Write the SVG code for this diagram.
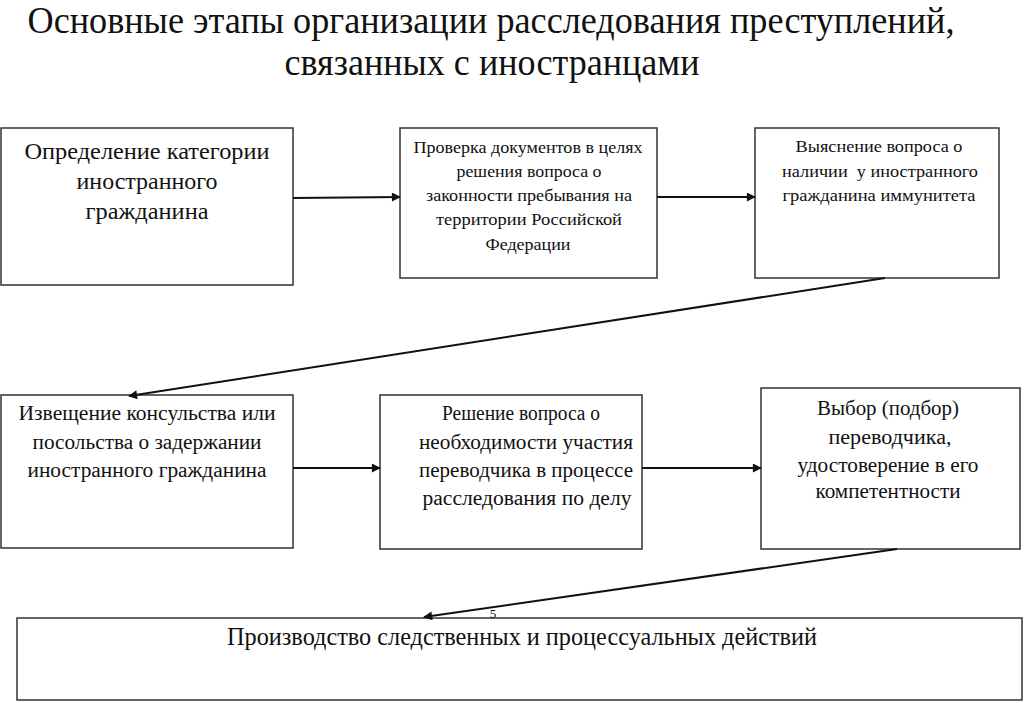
<svg xmlns="http://www.w3.org/2000/svg" width="1024" height="703" viewBox="0 0 1024 703">
<style>
.box{fill:#fff;stroke:#333;stroke-width:1.5}
.t{font-family:"Liberation Serif","Times New Roman","DejaVu Serif",serif;fill:#111;text-anchor:middle}
.title{font-size:38px}
.b1{font-size:23px}
.s{font-size:16.5px}
.m{font-size:20.5px}
.b7{font-size:25px}
.c{stroke:#111;stroke-width:2;fill:none;marker-end:url(#ah)}
</style>
<defs>
<marker id="ah" viewBox="0 0 10 10" refX="9" refY="5" markerWidth="10" markerHeight="9" orient="auto" markerUnits="userSpaceOnUse">
<path d="M0,0 L10,5 L0,10 z" fill="#111"/>
</marker>
</defs>
<rect width="1024" height="703" fill="#fff"/>
<g id="title">
<text class="t title" x="491" y="33" textLength="927" lengthAdjust="spacingAndGlyphs">Основные этапы организации расследования преступлений,</text>
<text class="t title" x="492" y="75" textLength="415" lengthAdjust="spacingAndGlyphs">связанных с иностранцами</text>
</g>
<g id="n1">
<rect class="box" x="1" y="128" width="292" height="157"/>
<text class="t b1" x="147" y="159" textLength="245" lengthAdjust="spacingAndGlyphs">Определение категории</text>
<text class="t b1" x="147" y="189" textLength="141" lengthAdjust="spacingAndGlyphs">иностранного</text>
<text class="t b1" x="147" y="219" textLength="123" lengthAdjust="spacingAndGlyphs">гражданина</text>
</g>
<g id="n2">
<rect class="box" x="400" y="128" width="257" height="150"/>
<text class="t s" x="528" y="153" textLength="229" lengthAdjust="spacingAndGlyphs">Проверка документов в целях</text>
<text class="t s" x="529" y="177" textLength="145" lengthAdjust="spacingAndGlyphs">решения вопроса о</text>
<text class="t s" x="529" y="201" textLength="206" lengthAdjust="spacingAndGlyphs">законности пребывания на</text>
<text class="t s" x="529" y="225" textLength="186" lengthAdjust="spacingAndGlyphs">территории Российской</text>
<text class="t s" x="528" y="250" textLength="85" lengthAdjust="spacingAndGlyphs">Федерации</text>
</g>
<g id="n3">
<rect class="box" x="755" y="128" width="244" height="150"/>
<text class="t s" x="879" y="152" textLength="167" lengthAdjust="spacingAndGlyphs">Выяснение вопроса о</text>
<text class="t s" x="880" y="177" xml:space="preserve" textLength="196" lengthAdjust="spacingAndGlyphs">наличии  у иностранного</text>
<text class="t s" x="879" y="201" textLength="193" lengthAdjust="spacingAndGlyphs">гражданина иммунитета</text>
</g>
<g id="n4">
<rect class="box" x="1" y="395" width="292" height="153"/>
<text class="t m" x="147" y="420" textLength="257" lengthAdjust="spacingAndGlyphs">Извещение консульства или</text>
<text class="t m" x="147" y="449" textLength="229" lengthAdjust="spacingAndGlyphs">посольства о задержании</text>
<text class="t m" x="147" y="477" textLength="239" lengthAdjust="spacingAndGlyphs">иностранного гражданина</text>
</g>
<g id="n5">
<rect class="box" x="380" y="395" width="262" height="154"/>
<text class="t m" x="521" y="420" textLength="158" lengthAdjust="spacingAndGlyphs">Решение вопроса о</text>
<text class="t m" x="526" y="449" textLength="214" lengthAdjust="spacingAndGlyphs">необходимости участия</text>
<text class="t m" x="526" y="477" textLength="214" lengthAdjust="spacingAndGlyphs">переводчика в процессе</text>
<text class="t m" x="527" y="505" textLength="209" lengthAdjust="spacingAndGlyphs">расследования по делу</text>
</g>
<g id="n6">
<rect class="box" x="761" y="388" width="259" height="161"/>
<text class="t m" x="888" y="415" textLength="142" lengthAdjust="spacingAndGlyphs">Выбор (подбор)</text>
<text class="t m" x="890" y="444" textLength="123" lengthAdjust="spacingAndGlyphs">переводчика,</text>
<text class="t m" x="888" y="472" textLength="181" lengthAdjust="spacingAndGlyphs">удостоверение в его</text>
<text class="t m" x="888" y="498" textLength="145" lengthAdjust="spacingAndGlyphs">компетентности</text>
</g>
<g id="n7">
<rect class="box" x="17" y="618" width="1005" height="82"/>
<text class="t b7" x="522" y="645" textLength="590" lengthAdjust="spacingAndGlyphs">Производство следственных и процессуальных действий</text>
</g>
<g id="connectors">
<line class="c" x1="293" y1="198" x2="400" y2="197"/>
<line class="c" x1="657" y1="197" x2="755" y2="197"/>
<line class="c" x1="885" y1="278" x2="129" y2="396"/>
<line class="c" x1="293" y1="468" x2="380" y2="468"/>
<line class="c" x1="642" y1="468" x2="761" y2="468"/>
<line class="c" x1="897" y1="549" x2="424" y2="617"/>
</g>
<text class="t" x="493" y="618" font-size="13">5</text>
</svg>
